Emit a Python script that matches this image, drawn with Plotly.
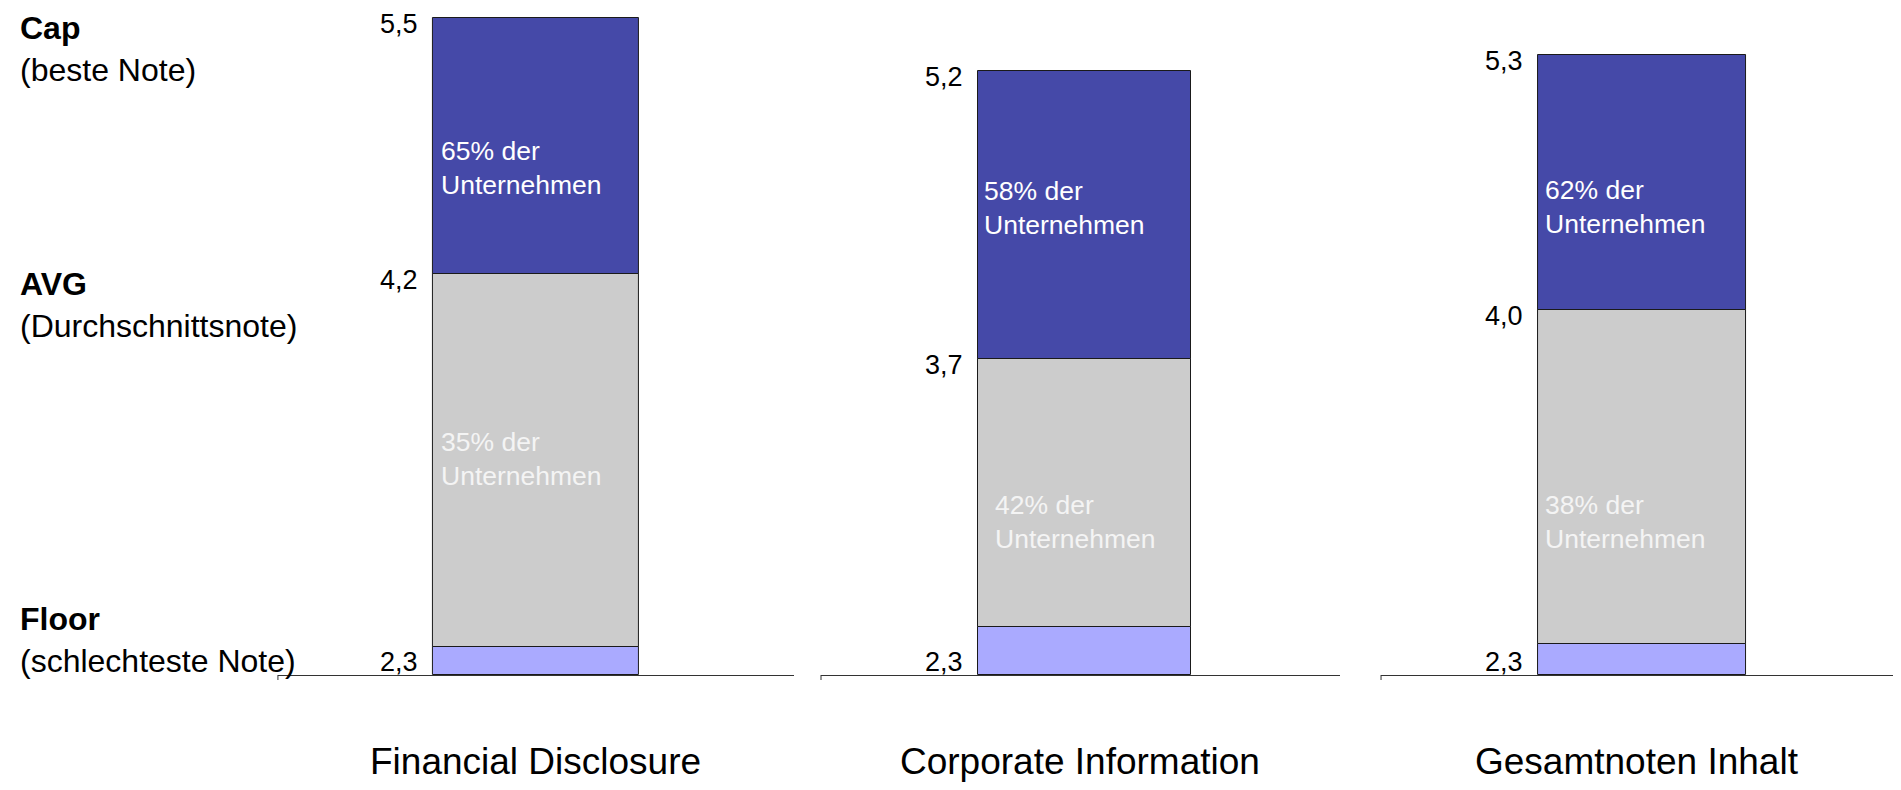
import plotly.graph_objects as go

# ---------------- data ----------------
categories = ["Financial Disclosure", "Corporate Information", "Gesamtnoten Inhalt"]
cap_values = [5.5, 5.2, 5.3]          # Cap (beste Note)
avg_values = [4.2, 3.7, 4.0]          # AVG (Durchschnittsnote)
floor_values = [2.3, 2.3, 2.3]        # Floor (schlechteste Note)
floor_bottom = [2.16, 2.05, 2.14]     # lower edge of the floor segment (estimated)
cap_labels = ["5,5", "5,2", "5,3"]
avg_labels = ["4,2", "3,7", "4,0"]
floor_labels = ["2,3", "2,3", "2,3"]
upper_share = ["65% der<br>Unternehmen", "58% der<br>Unternehmen", "62% der<br>Unternehmen"]
lower_share = ["35% der<br>Unternehmen", "42% der<br>Unternehmen", "38% der<br>Unternehmen"]

# ---------------- style ----------------
FONT = "Liberation Sans, Arial, sans-serif"
C_BLUE = "#4549A8"
C_GRAY = "#CCCCCC"
C_FLOOR = "#AAAAFF"
W, H = 1885, 774          # page body has an 8px margin
PLOT_H = 667
x_domains = [[0.1432, 0.4170], [0.4313, 0.7066], [0.7284, 1.0]]
y_tops = [5.553, 5.528, 5.539]
bar_widths = [0.40, 0.41, 0.405]
bar_shift = [0.0, 0.008, 0.010]
upper_xshift = [6, 4, 5]
lower_xshift = [6, 15, 5]
upper_yshift = [-22, 7, -25]
lower_yshift = [2, -29, -45]

fig = go.Figure()
annotations = []
shapes = []

for i, cat in enumerate(categories):
    xa = "x" if i == 0 else f"x{i+1}"
    ya = "y" if i == 0 else f"y{i+1}"
    left = -bar_widths[i] / 2 + bar_shift[i]
    segs = [
        (floor_bottom[i], floor_values[i] - floor_bottom[i], C_FLOOR),
        (floor_values[i], avg_values[i] - floor_values[i], C_GRAY),
        (avg_values[i], cap_values[i] - avg_values[i], C_BLUE),
    ]
    for base, h, col in segs:
        fig.add_trace(go.Bar(
            x=[cat], y=[h], base=[base], width=bar_widths[i], offset=left,
            marker=dict(color=col, line=dict(color="#1a1a1a", width=1)),
            xaxis=xa, yaxis=ya, showlegend=False, hoverinfo="skip",
        ))
    # value labels
    for val, lab, anchor, ysh in [
        (cap_values[i], cap_labels[i], "middle", -6),
        (avg_values[i], avg_labels[i], "middle", -6),
        (floor_bottom[i], floor_labels[i], "bottom", -4),
    ]:
        annotations.append(dict(
            x=left, y=val, xref=xa, yref=ya, text=lab, showarrow=False,
            xanchor="right", yanchor=anchor, xshift=-13, yshift=ysh,
            font=dict(family=FONT, size=27, color="#000000"),
        ))
    # share labels
    annotations.append(dict(
        x=left, y=(avg_values[i] + cap_values[i]) / 2, xref=xa, yref=ya,
        text=upper_share[i], showarrow=False, align="left",
        xanchor="left", yanchor="middle", xshift=upper_xshift[i], yshift=upper_yshift[i],
        font=dict(family=FONT, size=26.5, color="#FFFFFF"),
    ))
    annotations.append(dict(
        x=left, y=(floor_values[i] + avg_values[i]) / 2, xref=xa, yref=ya,
        text=lower_share[i], showarrow=False, align="left",
        xanchor="left", yanchor="middle", xshift=lower_xshift[i], yshift=lower_yshift[i],
        font=dict(family=FONT, size=26.5, color="#F4F4F4"),
    ))
    # category label
    annotations.append(dict(
        x=cat, y=(PLOT_H - 753) / PLOT_H, xref=xa, yref="paper", text=cat,
        showarrow=False, xanchor="center", yanchor="middle",
        font=dict(family=FONT, size=37, color="#000000"),
    ))
    # tiny tick at the left end of each axis line
    shapes.append(dict(
        type="line", xref=f"{xa} domain", yref="paper", x0=0, x1=0,
        ysizemode="pixel", yanchor=0, y0=-5, y1=0,
        line=dict(color="#333333", width=1),
    ))

# left side legend texts (page y of block centre)
left_texts = [
    ("<b>Cap</b><br>(beste Note)", 49),
    ("<b>AVG</b><br>(Durchschnittsnote)", 305),
    ("<b>Floor</b><br>(schlechteste Note)", 640),
]
for txt, py in left_texts:
    annotations.append(dict(
        x=10 / W, y=(675 - py) / PLOT_H, xref="paper", yref="paper",
        text=txt, showarrow=False, align="left", xanchor="left", yanchor="middle",
        font=dict(family=FONT, size=32, color="#000000"),
    ))

layout = dict(
    width=W, height=H,
    margin=dict(l=0, r=0, t=0, b=H - PLOT_H, pad=0),
    paper_bgcolor="white", plot_bgcolor="white",
    barmode="overlay", bargap=0,
    annotations=annotations,
    shapes=shapes,
    showlegend=False,
)
for i in range(3):
    sx = "" if i == 0 else str(i + 1)
    layout[f"xaxis{sx}"] = dict(
        domain=x_domains[i], anchor=f"y{sx}", type="category", range=[-0.5, 0.5],
        showline=True, linecolor="#333333", linewidth=1, showgrid=False,
        zeroline=False, showticklabels=False, ticks="",
    )
    layout[f"yaxis{sx}"] = dict(
        anchor=f"x{sx}", range=[floor_bottom[i], y_tops[i]], visible=False,
        showgrid=False, zeroline=False,
    )
fig.update_layout(**layout)
fig.write_html("out.html")
